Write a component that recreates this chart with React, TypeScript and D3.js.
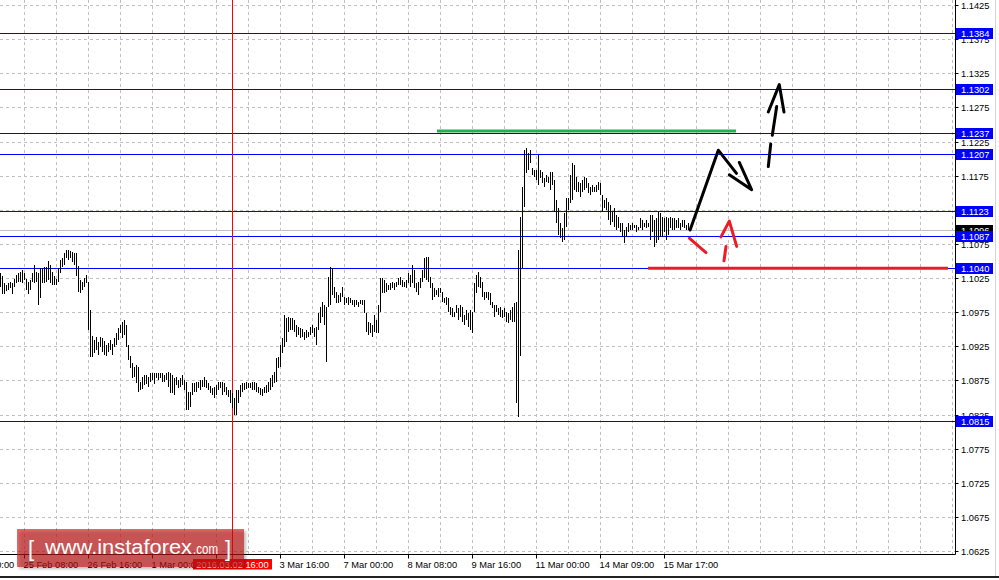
import React, { useEffect, useRef } from 'react';
import * as d3 from 'd3';

// hourly bars, EURUSD (high / low per bar)
const barHigh = [
  1.1033, 1.1028, 1.1018, 1.1016, 1.1018, 1.1020, 1.1018, 1.1025, 1.1030, 1.1033,
  1.1035, 1.1038, 1.1033, 1.1025, 1.1020, 1.1023, 1.1033, 1.1045, 1.1035, 1.1033,
  1.1040, 1.1040, 1.1042, 1.1042, 1.1050, 1.1045, 1.1035, 1.1028, 1.1025, 1.1040,
  1.1052, 1.1055, 1.1062, 1.1067, 1.1067, 1.1065, 1.1064, 1.1062, 1.1062, 1.1043,
  1.1023, 1.1020, 1.1026, 1.1030, 1.1020, 1.0979, 1.0941, 1.0935, 1.0939, 1.0932,
  1.0939, 1.0938, 1.0933, 1.0927, 1.0930, 1.0935, 1.0929, 1.0938, 1.0945, 1.0952,
  1.0957, 1.0961, 1.0964, 1.0957, 1.0927, 1.0911, 1.0901, 1.0895, 1.0898, 1.0895,
  1.0873, 1.0880, 1.0883, 1.0883, 1.0880, 1.0886, 1.0886, 1.0886, 1.0886, 1.0886,
  1.0886, 1.0886, 1.0883, 1.0886, 1.0888, 1.0886, 1.0883, 1.0879, 1.0880, 1.0876,
  1.0879, 1.0883, 1.0876, 1.0873, 1.0859, 1.0859, 1.0872, 1.0872, 1.0873, 1.0873,
  1.0876, 1.0877, 1.0880, 1.0876, 1.0872, 1.0867, 1.0864, 1.0866, 1.0869, 1.0873,
  1.0873, 1.0873, 1.0872, 1.0866, 1.0862, 1.0862, 1.0857, 1.0850, 1.0862, 1.0862,
  1.0869, 1.0872, 1.0872, 1.0873, 1.0872, 1.0872, 1.0873, 1.0873, 1.0872, 1.0866,
  1.0864, 1.0863, 1.0866, 1.0869, 1.0873, 1.0879, 1.0883, 1.0888, 1.0908, 1.0910,
  1.0927, 1.0938, 1.0971, 1.0967, 1.0968, 1.0967, 1.0967, 1.0964, 1.0957, 1.0954,
  1.0952, 1.0951, 1.0946, 1.0949, 1.0946, 1.0954, 1.0957, 1.0952, 1.0954, 1.0974,
  1.0983, 1.0991, 1.0986, 1.0983, 1.1027, 1.1042, 1.1040, 1.1012, 1.1005, 1.1001,
  1.1004, 1.1012, 1.0998, 1.0996, 1.0998, 1.0996, 1.0993, 1.0993, 1.0993, 1.0991,
  1.0993, 1.0993, 1.0993, 1.0974, 1.0961, 1.0960, 1.0957, 1.0971, 1.0964, 1.0986,
  1.1026, 1.1026, 1.1023, 1.1018, 1.1016, 1.1018, 1.1020, 1.1018, 1.1020, 1.1026,
  1.1027, 1.1023, 1.1020, 1.1023, 1.1033, 1.1030, 1.1045, 1.1037, 1.1018, 1.1020,
  1.1026, 1.1037, 1.1055, 1.1057, 1.1057, 1.1027, 1.1018, 1.1011, 1.1008, 1.1011,
  1.1011, 1.1005, 1.0996, 1.0998, 1.0996, 1.0983, 1.0982, 1.0976, 1.0986, 1.0982,
  1.0986, 1.0983, 1.0971, 1.0979, 1.0974, 1.0979, 1.0976, 1.1018, 1.1030, 1.1034,
  1.1027, 1.1020, 1.1005, 1.1005, 1.1005, 1.1004, 1.0991, 1.0986, 1.0986, 1.0982,
  1.0983, 1.0979, 1.0982, 1.0976, 1.0974, 1.0979, 1.0983, 1.0989, 1.0991, 1.1067,
  1.1115, 1.1159, 1.1213, 1.1216, 1.1209, 1.1213, 1.1187, 1.1184, 1.1184, 1.1206,
  1.1184, 1.1181, 1.1172, 1.1176, 1.1173, 1.1181, 1.1181, 1.1169, 1.1140, 1.1128,
  1.1107, 1.1099, 1.1121, 1.1143, 1.1143, 1.1176, 1.1194, 1.1191, 1.1174, 1.1166,
  1.1165, 1.1169, 1.1174, 1.1172, 1.1165, 1.1159, 1.1162, 1.1159, 1.1162, 1.1166,
  1.1165, 1.1147, 1.1140, 1.1143, 1.1137, 1.1133, 1.1122, 1.1128, 1.1118, 1.1115,
  1.1107, 1.1106, 1.1096, 1.1100, 1.1106, 1.1103, 1.1106, 1.1103, 1.1103, 1.1100,
  1.1113, 1.1110, 1.1107, 1.1110, 1.1107, 1.1118, 1.1118, 1.1110, 1.1113, 1.1122,
  1.1121, 1.1115, 1.1113, 1.1115, 1.1113, 1.1115, 1.1113, 1.1113, 1.1110, 1.1113,
  1.1107, 1.1110, 1.1110, 1.1103, 1.1107,
];

const barLow = [
  1.1013, 1.1003, 1.1003, 1.1006, 1.1008, 1.1011, 1.1003, 1.1013, 1.1018, 1.1020,
  1.1020, 1.1018, 1.1023, 1.1008, 1.1003, 1.1008, 1.1020, 1.1018, 1.1020, 1.0986,
  1.0996, 1.1018, 1.1018, 1.1020, 1.1023, 1.1018, 1.1016, 1.1016, 1.1016, 1.1020,
  1.1033, 1.1042, 1.1045, 1.1055, 1.1052, 1.1055, 1.1049, 1.1045, 1.1028, 1.1005,
  1.1004, 1.1008, 1.1013, 1.1019, 1.0949, 1.0910, 1.0910, 1.0916, 1.0920, 1.0913,
  1.0924, 1.0918, 1.0913, 1.0911, 1.0918, 1.0920, 1.0913, 1.0924, 1.0927, 1.0935,
  1.0945, 1.0938, 1.0942, 1.0924, 1.0905, 1.0894, 1.0879, 1.0880, 1.0872, 1.0858,
  1.0862, 1.0863, 1.0869, 1.0870, 1.0866, 1.0873, 1.0876, 1.0870, 1.0879, 1.0876,
  1.0879, 1.0873, 1.0873, 1.0876, 1.0866, 1.0857, 1.0857, 1.0854, 1.0869, 1.0864,
  1.0866, 1.0869, 1.0862, 1.0832, 1.0832, 1.0837, 1.0854, 1.0859, 1.0859, 1.0864,
  1.0862, 1.0866, 1.0866, 1.0864, 1.0862, 1.0857, 1.0854, 1.0850, 1.0854, 1.0862,
  1.0864, 1.0854, 1.0859, 1.0854, 1.0851, 1.0843, 1.0835, 1.0825, 1.0825, 1.0843,
  1.0851, 1.0859, 1.0862, 1.0863, 1.0864, 1.0864, 1.0862, 1.0862, 1.0859, 1.0857,
  1.0854, 1.0853, 1.0857, 1.0857, 1.0859, 1.0862, 1.0866, 1.0872, 1.0873, 1.0894,
  1.0895, 1.0916, 1.0924, 1.0932, 1.0946, 1.0949, 1.0949, 1.0946, 1.0939, 1.0942,
  1.0938, 1.0939, 1.0935, 1.0938, 1.0939, 1.0942, 1.0945, 1.0939, 1.0927, 1.0949,
  1.0960, 1.0969, 1.0957, 1.0903, 1.0983, 1.0986, 1.1001, 1.0996, 1.0989, 1.0989,
  1.0991, 1.0998, 1.0986, 1.0989, 1.0986, 1.0989, 1.0986, 1.0983, 1.0986, 1.0983,
  1.0988, 1.0986, 1.0974, 1.0946, 1.0942, 1.0945, 1.0939, 1.0946, 1.0945, 1.0945,
  1.0976, 1.1004, 1.1004, 1.1005, 1.1008, 1.1008, 1.1011, 1.1008, 1.1013, 1.1016,
  1.1016, 1.1013, 1.1013, 1.1011, 1.1018, 1.1013, 1.1018, 1.1011, 1.1005, 1.1001,
  1.1011, 1.1020, 1.1026, 1.1023, 1.1020, 1.1011, 1.0993, 1.0998, 1.1001, 1.0998,
  1.1004, 1.0991, 1.0989, 1.0986, 1.0976, 1.0971, 1.0968, 1.0968, 1.0974, 1.0964,
  1.0968, 1.0961, 1.0957, 1.0964, 1.0954, 1.0949, 1.0945, 1.0976, 1.1004, 1.1013,
  1.1011, 1.0998, 1.0993, 1.0996, 1.0993, 1.0986, 1.0982, 1.0968, 1.0976, 1.0971,
  1.0968, 1.0967, 1.0968, 1.0961, 1.0960, 1.0964, 1.0961, 1.0961, 1.0843, 1.0822,
  1.0911, 1.1040, 1.1130, 1.1179, 1.1184, 1.1194, 1.1176, 1.1173, 1.1169, 1.1162,
  1.1172, 1.1165, 1.1159, 1.1166, 1.1165, 1.1154, 1.1162, 1.1122, 1.1106, 1.1089,
  1.1084, 1.1078, 1.1081, 1.1100, 1.1125, 1.1135, 1.1140, 1.1154, 1.1152, 1.1152,
  1.1145, 1.1152, 1.1154, 1.1157, 1.1150, 1.1147, 1.1152, 1.1152, 1.1152, 1.1154,
  1.1147, 1.1122, 1.1128, 1.1125, 1.1110, 1.1103, 1.1108, 1.1100, 1.1096, 1.1099,
  1.1093, 1.1086, 1.1077, 1.1086, 1.1093, 1.1096, 1.1096, 1.1099, 1.1093, 1.1096,
  1.1099, 1.1096, 1.1100, 1.1099, 1.1100, 1.1081, 1.1093, 1.1071, 1.1077, 1.1081,
  1.1086, 1.1086, 1.1093, 1.1081, 1.1089, 1.1099, 1.1096, 1.1096, 1.1099, 1.1099,
  1.1096, 1.1100, 1.1099, 1.1096, 1.1096,
];

const priceTicks = [
  '1.0625', '1.0675', '1.0725', '1.0775', '1.0825', '1.0875', '1.0925', '1.0975', '1.1025',
  '1.1075', '1.1125', '1.1175', '1.1225', '1.1275', '1.1325', '1.1375', '1.1425',
];

const levels = [1.1384, 1.1302, 1.1237, 1.1207, 1.1123, 1.1087, 1.1040, 1.0815];
const lastPrice = 1.1096;

const timeLabels = [
  '24 Feb 00:00', '25 Feb 08:00', '26 Feb 16:00', '1 Mar 00:00', '2 Mar 08:00', '3 Mar 16:00',
  '7 Mar 00:00', '8 Mar 08:00', '9 Mar 16:00', '11 Mar 00:00', '14 Mar 09:00', '15 Mar 17:00',
];
const timeLabelBars = [-20, 12, 44, 76, 108, 140, 172, 204, 236, 268, 300, 332];

const cursorBar = 116;
const cursorLabel = '2016.03.02 16:00';

// hand drawn marks: [bar index, price]
const greenMark = [[218.25, 1.1241], [367.75, 1.1241]];
const redMark = [[323.75, 1.104], [473.75, 1.104]];
const blackZigzag = [[344.8, 1.1096], [358.9, 1.1213], [368, 1.1179]];
const blackHead = [[364.4, 1.1177], [375.6, 1.1155], [369.4, 1.1195]];
const blackDashes = [
  [[383.9, 1.1189], [385.1, 1.1222]],
  [[385.9, 1.1235], [388.1, 1.1277]],
];
const blackDashHead = [[383.9, 1.1269], [389.4, 1.1309], [391.75, 1.1269]];
const redDashes = [
  [[344.4, 1.1084], [352.75, 1.1063]],
  [[362.75, 1.1072], [361.75, 1.1051]],
];
const redHead = [[360.25, 1.1086], [364.4, 1.1109], [368.1, 1.1072]];

const App: React.FC = () => {
  const svgRef = useRef<SVGSVGElement | null>(null);

  useEffect(() => {
    const svg = d3.select(svgRef.current);
    svg.selectAll('*').remove();

    const plotRight = 955.5;
    const plotBottom = 554.5;
    const font = '"Liberation Sans", Arial, sans-serif';

    const x = d3.scaleLinear().domain([0, 478]).range([0.5, 956.5]);
    const y = d3.scaleLinear().domain([1.0625, 1.1425]).range([551.5, 5.5]);
    const yl = (p: number) => Math.floor(y(p)) + 0.5;

    svg.append('rect').attr('width', 999).attr('height', 580).attr('fill', '#fff');

    // grid
    const grid = svg.append('g').attr('stroke', '#c0c0c0').attr('stroke-dasharray', '3,3');
    grid
      .selectAll('line.h')
      .data(priceTicks)
      .enter()
      .append('line')
      .attr('x1', 0)
      .attr('x2', plotRight)
      .attr('y1', d => yl(+d))
      .attr('y2', d => yl(+d));
    grid
      .selectAll('line.v')
      .data(d3.range(-4, 478, 16))
      .enter()
      .append('line')
      .attr('x1', d => x(d))
      .attr('x2', d => x(d))
      .attr('y1', 0)
      .attr('y2', plotBottom);

    // last price line
    svg
      .append('line')
      .attr('x1', 0)
      .attr('x2', plotRight)
      .attr('y1', yl(lastPrice))
      .attr('y2', yl(lastPrice))
      .attr('stroke', '#c0c0c0');

    // horizontal levels
    svg
      .append('g')
      .selectAll('line')
      .data(levels)
      .enter()
      .append('line')
      .attr('x1', 0)
      .attr('x2', plotRight)
      .attr('y1', d => yl(d))
      .attr('y2', d => yl(d))
      .attr('stroke', '#0000ff');

    // cursor line
    svg
      .append('line')
      .attr('x1', x(cursorBar))
      .attr('x2', x(cursorBar))
      .attr('y1', 0)
      .attr('y2', 559)
      .attr('stroke', '#ff0000');

    // bars
    svg
      .append('g')
      .attr('shape-rendering', 'crispEdges')
      .selectAll('rect')
      .data(barHigh)
      .enter()
      .append('rect')
      .attr('x', (d, i) => x(i) - 0.5)
      .attr('width', 1)
      .attr('y', d => Math.round(y(d)))
      .attr('height', (d, i) => Math.max(1, Math.round(y(barLow[i])) - Math.round(y(d))))
      .attr('fill', '#000');

    // hand drawn marks
    const line = d3
      .line<number[]>()
      .x(d => x(d[0]))
      .y(d => y(d[1]));
    const marks = svg
      .append('g')
      .attr('fill', 'none')
      .attr('stroke-linecap', 'round')
      .attr('stroke-linejoin', 'round');
    marks.append('path').attr('d', line(greenMark)).attr('stroke', '#22b14c').attr('stroke-width', 3).attr('stroke-linecap', 'butt');
    marks.append('path').attr('d', line(redMark)).attr('stroke', '#ed1c24').attr('stroke-width', 3).attr('stroke-linecap', 'butt');
    marks.append('path').attr('d', line(blackZigzag)).attr('stroke', '#000').attr('stroke-width', 3);
    marks.append('path').attr('d', line(blackHead)).attr('stroke', '#000').attr('stroke-width', 3);
    blackDashes.forEach(seg => {
      marks.append('path').attr('d', line(seg)).attr('stroke', '#000').attr('stroke-width', 3);
    });
    marks.append('path').attr('d', line(blackDashHead)).attr('stroke', '#000').attr('stroke-width', 3);
    redDashes.forEach(seg => {
      marks.append('path').attr('d', line(seg)).attr('stroke', '#ed1c24').attr('stroke-width', 3);
    });
    marks.append('path').attr('d', line(redHead)).attr('stroke', '#ed1c24').attr('stroke-width', 3);

    // axes
    const axes = svg.append('g').attr('stroke', '#000');
    axes.append('line').attr('x1', 0).attr('x2', plotRight).attr('y1', plotBottom).attr('y2', plotBottom);
    axes.append('line').attr('x1', plotRight).attr('x2', plotRight).attr('y1', 0).attr('y2', plotBottom);
    axes
      .selectAll('line.pt')
      .data(priceTicks)
      .enter()
      .append('line')
      .attr('x1', plotRight)
      .attr('x2', plotRight + 3)
      .attr('y1', d => yl(+d))
      .attr('y2', d => yl(+d));
    axes
      .selectAll('line.tt')
      .data(timeLabelBars)
      .enter()
      .append('line')
      .attr('x1', d => x(d))
      .attr('x2', d => x(d))
      .attr('y1', plotBottom)
      .attr('y2', plotBottom + 4);

    const labels = svg.append('g').attr('font-family', font).attr('font-size', 9.3).attr('fill', '#000');
    labels
      .selectAll('text.p')
      .data(priceTicks)
      .enter()
      .append('text')
      .attr('x', 961)
      .attr('y', d => y(+d) + 3.5)
      .text(d => d);
    labels
      .selectAll('text.t')
      .data(timeLabels)
      .enter()
      .append('text')
      .attr('x', (d, i) => x(timeLabelBars[i]) - 1)
      .attr('y', 567.5)
      .text(d => d);

    // price boxes
    const box = (p: number, fill: string) => {
      const cy = yl(p);
      svg.append('rect').attr('x', 956).attr('y', cy - 5.5).attr('width', 37).attr('height', 11).attr('fill', fill);
      svg
        .append('text')
        .attr('x', 961)
        .attr('y', cy + 3.5)
        .attr('font-family', font)
        .attr('font-size', 9.3)
        .attr('fill', '#fff')
        .text(p.toFixed(4));
    };
    box(lastPrice, '#000');
    levels.forEach(p => box(p, '#0000ff'));

    // cursor time box
    const cx = x(cursorBar);
    svg.append('rect').attr('x', cx - 39.5).attr('y', 559).attr('width', 79).attr('height', 10.5).attr('fill', '#ff0000');
    svg
      .append('text')
      .attr('x', cx)
      .attr('y', 567.5)
      .attr('text-anchor', 'middle')
      .attr('font-family', font)
      .attr('font-size', 9.3)
      .attr('fill', '#fff')
      .text(cursorLabel);

    // watermark
    const defs = svg.append('defs');
    defs
      .append('filter')
      .attr('id', 'blur')
      .append('feGaussianBlur')
      .attr('stdDeviation', 1.5);
    const logo = svg.append('g');
    logo.append('rect').attr('x', 19).attr('y', 531).attr('width', 227).attr('height', 38)
      .attr('fill', '#000').attr('opacity', 0.25).attr('filter', 'url(#blur)');
    logo.append('rect').attr('x', 17).attr('y', 529).attr('width', 227).attr('height', 38)
      .attr('fill', '#cc1414').attr('opacity', 0.62);
    const lt = logo.append('g').attr('font-family', font).attr('fill', '#fff');
    lt.append('text').attr('x', 28).attr('y', 556).attr('font-size', 22).text('[');
    lt.append('text').attr('x', 45).attr('y', 554).attr('font-size', 20)
      .attr('textLength', 147).attr('lengthAdjust', 'spacingAndGlyphs').text('www.instaforex');
    lt.append('text').attr('x', 193).attr('y', 554).attr('font-size', 14)
      .attr('textLength', 25).attr('lengthAdjust', 'spacingAndGlyphs').text('.com');
    lt.append('text').attr('x', 225).attr('y', 556).attr('font-size', 22).text(']');

    // window frame
    svg.append('line').attr('x1', 995.5).attr('x2', 995.5).attr('y1', 0).attr('y2', 577).attr('stroke', '#d4d4d4');
    svg.append('line').attr('x1', 0).attr('x2', 999).attr('y1', 577).attr('y2', 577).attr('stroke', '#222').attr('stroke-width', 2);
  }, []);

  return (
    <svg
      ref={svgRef}
      width={999}
      height={580}
      style={{ position: 'absolute', left: 0, top: 0, display: 'block' }}
    ></svg>
  );
};

export default App;
